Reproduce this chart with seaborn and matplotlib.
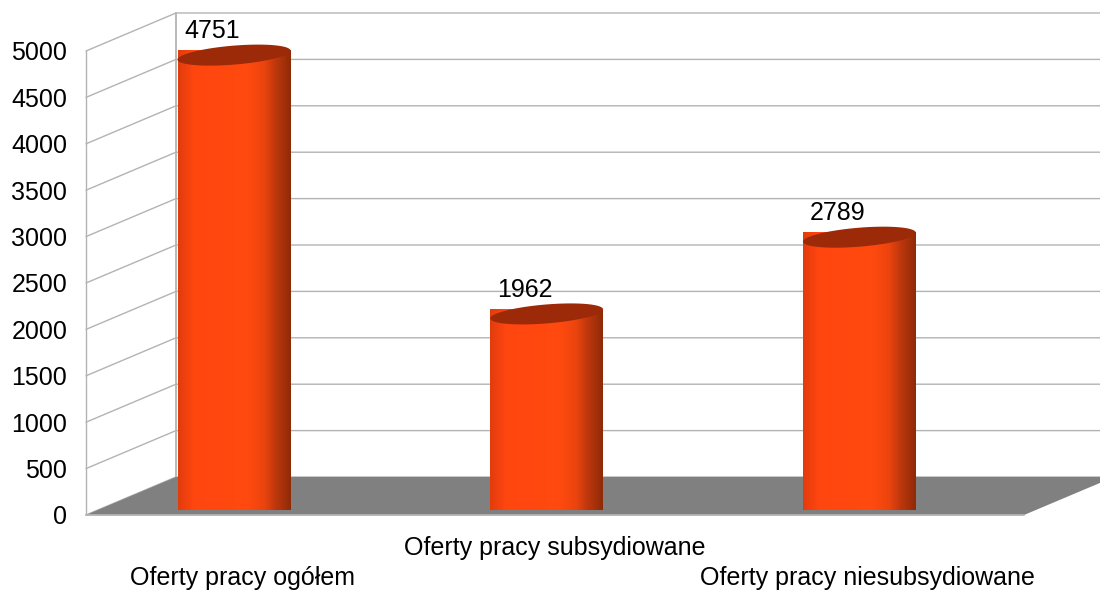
import numpy as np
import seaborn as sns
import matplotlib.pyplot as plt
from matplotlib.colors import LinearSegmentedColormap
from matplotlib.patches import Polygon

categories = ['Oferty pracy ogółem', 'Oferty pracy subsydiowane', 'Oferty pracy niesubsydiowane']
values = [4751, 1962, 2789]
y_ticks = [0, 500, 1000, 1500, 2000, 2500, 3000, 3500, 4000, 4500, 5000]

W, H = 1100, 592
grid_col = '#b3b3b3'
floor_col = '#808080'
top_col = '#9c2a08'
shade = LinearSegmentedColormap.from_list('shade', [
    (0.0, '#e23c0c'), (0.14, '#ff4610'), (0.62, '#ff4a0e'),
    (0.76, '#ec440f'), (0.88, '#b8360c'), (1.0, '#8f2a08')])

sns.set_style('white')
plt.rcParams['font.family'] = ['Liberation Sans', 'DejaVu Sans']
plt.rcParams['font.size'] = 18

fig = plt.figure(figsize=(W / 100, H / 100), dpi=100)


def place(left, top, right, bottom):
    return [left / W, 1 - bottom / H, (right - left) / W, (bottom - top) / H]


#%% front plane of the box: ticks, walls and floor
ax = fig.add_axes(place(86, 51, 1024, 515))
ax.set_xlim(0, 3)
ax.set_ylim(0, 5000)
ax.patch.set_alpha(0)
sns.despine(ax=ax, left=True, bottom=True, top=True, right=True)

dx = 90 / (938 / 3)  # box depth in axis units
dy = 38 * 5000 / 464

ax.fill([0, 3, 3 + dx, dx], [0, 0, dy, dy], color=floor_col, lw=0, clip_on=False, zorder=2)
for v in y_ticks:
    ax.plot([0, dx, 3 + dx], [v, v + dy, v + dy], color=grid_col, lw=1, clip_on=False, zorder=1)
ax.plot([0, 0], [0, 5000], color=grid_col, lw=1, clip_on=False, zorder=1)
ax.plot([dx, dx], [dy, 5000 + dy], color=grid_col, lw=1.3, clip_on=False, zorder=1)
ax.plot([0, 3], [0, 0], color=grid_col, lw=1.3, clip_on=False, zorder=3)

ax.set_yticks(y_ticks)
ax.set_xticks([0.5, 1.5, 2.5])
ax.set_xticklabels(categories)
ax.tick_params(axis='y', length=0, pad=13.5, labelsize=18, colors='black')
ax.tick_params(axis='x', length=0, labelsize=18, colors='black')
for i, tick in enumerate(ax.xaxis.get_major_ticks()):
    tick.set_pad(15 if i == 1 else 36.5)

#%% cylinders, on a plane half way into the box
bx = fig.add_axes(place(234 - 938 / 6, 32, 234 + 938 * 5 / 6, 496))
bx.patch.set_alpha(0)
sns.barplot(x=categories, y=values, ax=bx, width=0.361, color='#ff4a0e')
bars = list(bx.patches)

ry = 9.5 * 5000 / 464
skew = 4.5 * 5000 / 464
t = np.linspace(0, 2 * np.pi, 120)
low = np.linspace(0, np.pi, 60)
for bar, v in zip(bars, values):
    bar.set_visible(False)
    cx = bar.get_x() + bar.get_width() / 2
    rx = bar.get_width() / 2
    body = np.column_stack([
        np.r_[cx + rx * np.cos(low), cx - rx, cx + rx],
        np.r_[-ry * np.sin(low) - skew * np.cos(low) * -1, v + skew, v + skew * -1 + 2 * skew],
    ])
    clip = Polygon(body, transform=bx.transData, fc='none', ec='none')
    im = bx.imshow(np.linspace(0, 1, 256)[None, :], cmap=shade, aspect='auto', zorder=3,
                   extent=[cx - rx, cx + rx, -ry - skew, v + skew])
    im.set_clip_on(False)
    im.set_clip_path(clip)
    lid = np.column_stack([cx + rx * np.cos(t), v + ry * np.sin(t) + skew * np.cos(t)])
    bx.add_patch(Polygon(lid, fc=top_col, ec='none', clip_on=False, zorder=4))
    bx.annotate(str(v), (cx, v), xytext=(-15.8, 17.3), textcoords='offset points',
                ha='center', va='center', fontsize=18, color='black', zorder=5, annotation_clip=False)

bx.set_xlim(-0.5, 2.5)
bx.set_ylim(0, 5000)
bx.axis('off')

plt.savefig('out.png', dpi=100)
